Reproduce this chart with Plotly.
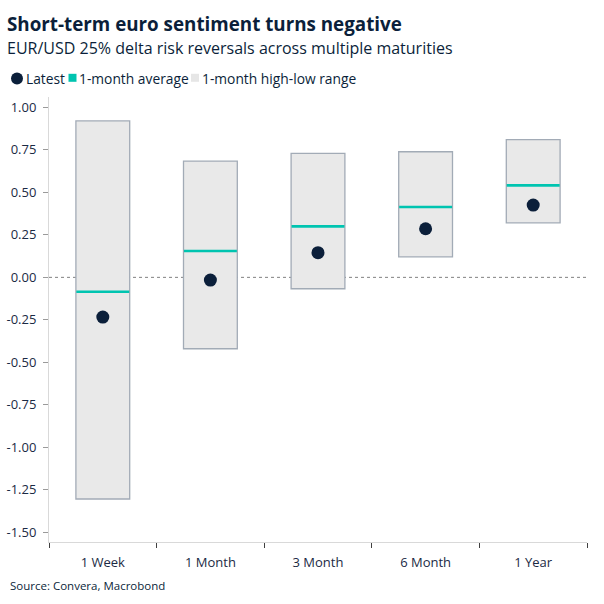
import plotly.graph_objects as go

# ---- data ----
maturities = ["1 Week", "1 Month", "3 Month", "6 Month", "1 Year"]
range_high = [0.92, 0.684, 0.729, 0.739, 0.81]
range_low = [-1.304, -0.42, -0.067, 0.121, 0.321]
avg_1m = [-0.085, 0.155, 0.30, 0.414, 0.541]
latest = [-0.234, -0.016, 0.145, 0.286, 0.425]
y_tickvals = [1.0, 0.75, 0.5, 0.25, 0.0, -0.25, -0.5, -0.75, -1.0, -1.25, -1.5]
y_ticktext = ["1.00", "0.75", "0.50", "0.25", "0.00", "-0.25", "-0.50", "-0.75", "-1.00", "-1.25", "-1.50"]

NAVY = "#0b1f3a"
TEAL = "#00c4b0"
BOXFILL = "#e9e9e9"
BOXLINE = "#a2abb6"
FONT = "Open Sans"

W, H = 604, 604
L, R, T, B = 49, 17, 97, 62
PW = W - L - R
PH = H - T - B

def px(x):
    return (x - L) / PW

def py(y):
    return (H - B - y) / PH

fig = go.Figure()

fig.add_trace(go.Bar(
    x=maturities,
    y=[h - l for h, l in zip(range_high, range_low)],
    base=range_low,
    width=0.5,
    marker=dict(color=BOXFILL, line=dict(color=BOXLINE, width=1.3)),
    showlegend=False,
    hoverinfo="skip",
))

fig.add_trace(go.Scatter(
    x=maturities,
    y=avg_1m,
    mode="markers",
    marker=dict(symbol="line-ew", size=37.8, line=dict(color=TEAL, width=2.6)),
    showlegend=False,
))

fig.add_trace(go.Scatter(
    x=maturities,
    y=latest,
    mode="markers",
    marker=dict(symbol="circle", size=13, color=NAVY),
    showlegend=False,
))

shapes = [
    dict(type="line", xref="paper", yref="y", x0=0, x1=1, y0=0, y1=0,
         line=dict(color="#808080", width=1, dash="3px,3px"), layer="below"),
    # legend symbols
    dict(type="circle", xref="paper", yref="paper", xsizemode="pixel", ysizemode="pixel",
         xanchor=px(17), yanchor=py(78.5), x0=-6, x1=6, y0=-6, y1=6,
         fillcolor=NAVY, line=dict(width=0)),
    dict(type="rect", xref="paper", yref="paper", xsizemode="pixel", ysizemode="pixel",
         xanchor=px(72.5), yanchor=py(77.8), x0=-4, x1=4, y0=-4, y1=4,
         fillcolor=TEAL, line=dict(width=0)),
    dict(type="rect", xref="paper", yref="paper", xsizemode="pixel", ysizemode="pixel",
         xanchor=px(195), yanchor=py(77.8), x0=-4, x1=4, y0=-4, y1=4,
         fillcolor="#e6e6e6", line=dict(width=0)),
]

annotations = [
    dict(text="<b>Short-term euro sentiment turns negative</b>", xref="paper", yref="paper",
         x=px(5), y=py(23.5), xanchor="left", yanchor="middle", showarrow=False,
         font=dict(family=FONT, size=18.8, color=NAVY)),
    dict(text="EUR/USD 25% delta risk reversals across multiple maturities", xref="paper", yref="paper",
         x=px(5), y=py(48), xanchor="left", yanchor="middle", showarrow=False,
         font=dict(family=FONT, size=16, color=NAVY)),
    dict(text="Latest", xref="paper", yref="paper", x=px(24), y=py(78.5), xanchor="left",
         yanchor="middle", showarrow=False, font=dict(family=FONT, size=13.8, color=NAVY)),
    dict(text="1-month average", xref="paper", yref="paper", x=px(77), y=py(78.5), xanchor="left",
         yanchor="middle", showarrow=False, font=dict(family=FONT, size=13.8, color=NAVY)),
    dict(text="1-month high-low range", xref="paper", yref="paper", x=px(200), y=py(78.5), xanchor="left",
         yanchor="middle", showarrow=False, font=dict(family=FONT, size=13.8, color=NAVY)),
    dict(text="Source: Convera, Macrobond", xref="paper", yref="paper", x=px(8), y=py(585.5),
         xanchor="left", yanchor="middle", showarrow=False,
         font=dict(family=FONT, size=11.5, color=NAVY)),
]

fig.update_layout(
    width=W, height=H,
    margin=dict(l=L, r=R, t=T, b=B, pad=0),
    paper_bgcolor="white", plot_bgcolor="white",
    font=dict(family=FONT, size=13, color="#1b2a44"),
    showlegend=False,
    shapes=shapes,
    annotations=annotations,
    xaxis=dict(
        type="category", showgrid=False, zeroline=False, automargin=False,
        showline=True, linecolor="#d9d9d9", linewidth=1,
        ticks="outside", tickson="boundaries", ticklen=5, tickcolor="#404040", tickwidth=1,
        tickfont=dict(family=FONT, size=13, color="#1b2a44"),
        ticklabelstandoff=8,
        range=[-0.5, 4.5],
    ),
    yaxis=dict(
        range=[-1.557, 1.061], showgrid=False, zeroline=False, automargin=False,
        showline=True, linecolor="#d9d9d9", linewidth=1,
        ticks="outside", ticklen=5, tickcolor="#9a9a9a", tickwidth=1,
        tickvals=y_tickvals, ticktext=y_ticktext,
        tickfont=dict(family=FONT, size=13, color="#1b2a44"),
        ticklabelstandoff=4,
    ),
)

fig.write_html("out.html", config={"displayModeBar": False},
               post_script="document.body.style.margin='0';")
